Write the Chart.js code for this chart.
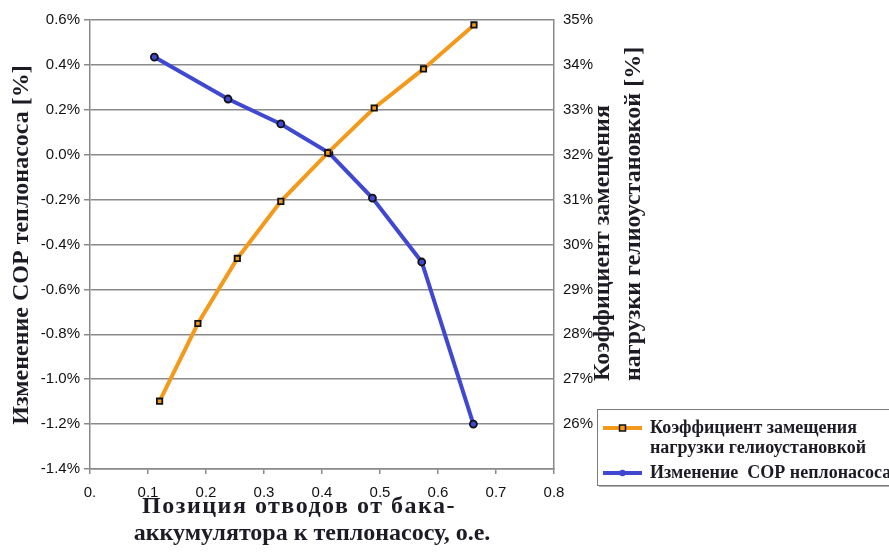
<!DOCTYPE html>
<html>
<head>
  <meta charset="utf-8" />
  <style>
    html, body { margin: 0; padding: 0; background: #fff; }
    #wrap { position: relative; width: 889px; height: 553px; }
  </style>
</head>
<body>
  <script src="https://cdn.jsdelivr.net/npm/chart.js@4.4.1/dist/chart.umd.min.js"></script>
  <div id="wrap"><canvas id="copChart" width="889" height="553"></canvas></div>
  <script>
    // chart data
    let tapPositionsCop = [0.111, 0.238, 0.329, 0.412, 0.487, 0.572, 0.661];
    let copChange = [0.435, 0.248, 0.137, 0.008, -0.193, -0.478, -1.2];

    let tapPositionsSolar = [0.12, 0.186, 0.254, 0.329, 0.41, 0.49, 0.575, 0.662];
    let solarFraction = [26.51, 28.24, 29.69, 30.96, 32.04, 33.04, 33.91, 34.89];

    let seriesNames = [
      ["Коэффициент замещения", "нагрузки гелиоустановкой"],
      ["Изменение  СОР неплонасоса"],
    ];

    let leftAxisTitle = "Изменение СОР теплонасоса [%]";
    let rightAxisTitle = ["Коэффициент замещения", "нагрузки гелиоустановкой [%]"];
    let xAxisTitle = ["Позиция отводов от бака-", "аккумулятора к теплонасосу, о.е."];

    // colors / fonts
    let orangeColor = "#f39a1c";
    let blueColor = "#4048d2";
    let gridColor = "#8a8a8a";
    let titleColor = "#1d1b24";
    let tickFont = { family: "Liberation Sans, Arial, sans-serif", size: 15 };
    let serifBold = "bold 24px 'Liberation Serif', 'Times New Roman', serif";

    function pairUp(xs, ys) {
      return xs.map((x, i) => ({ x: x, y: ys[i] }));
    }

    // titles + legend drawn by hand so they can sit where the original has them
    const extrasPlugin = {
      id: "extras",
      afterDraw(chart) {
        const ctx = chart.ctx;
        ctx.save();
        ctx.fillStyle = titleColor;
        ctx.font = serifBold;
        ctx.textBaseline = "middle";

        // left title
        ctx.save();
        ctx.translate(22, 245);
        ctx.rotate(-Math.PI / 2);
        ctx.textAlign = "center";
        ctx.fillText(leftAxisTitle, 0, 0);
        ctx.restore();

        // right title, two lines, reading bottom to top
        ctx.save();
        ctx.translate(603, 381);
        ctx.rotate(-Math.PI / 2);
        ctx.textAlign = "left";
        ctx.fillText(rightAxisTitle[0], 0, 0);
        ctx.fillText(rightAxisTitle[1], 0, 31);
        ctx.restore();

        // x title (first line is set a bit looser in the original)
        ctx.textAlign = "center";
        ctx.save();
        ctx.letterSpacing = "1.5px";
        ctx.fillText(xAxisTitle[0], 299, 507);
        ctx.restore();
        ctx.fillText(xAxisTitle[1], 312, 534);

        // legend box
        ctx.fillStyle = "#b0b0b0";
        ctx.fillRect(599, 411, 300, 76);
        ctx.fillStyle = "#ffffff";
        ctx.fillRect(597, 409, 300, 76);
        ctx.strokeStyle = "#7a7a7a";
        ctx.lineWidth = 1;
        ctx.strokeRect(597.5, 409.5, 300, 76);

        const rows = [
          { color: orangeColor, style: "rect", y: 428, lines: seriesNames[0] },
          { color: blueColor, style: "circle", y: 473, lines: seriesNames[1] },
        ];
        ctx.font = "bold 18px 'Liberation Serif', 'Times New Roman', serif";
        ctx.textAlign = "left";
        rows.forEach((r) => {
          ctx.strokeStyle = r.color;
          ctx.lineWidth = 4;
          ctx.beginPath();
          ctx.moveTo(603, r.y);
          ctx.lineTo(642, r.y);
          ctx.stroke();
          ctx.fillStyle = r.color;
          ctx.strokeStyle = "#111";
          ctx.lineWidth = 1.5;
          ctx.beginPath();
          if (r.style === "rect") {
            ctx.rect(619.5, r.y - 3, 6, 6);
          } else {
            ctx.arc(622.5, r.y, 3.2, 0, Math.PI * 2);
          }
          ctx.fill();
          if (r.style === "rect") ctx.stroke();
          ctx.fillStyle = titleColor;
          r.lines.forEach((t, i) => ctx.fillText(t, 650, r.y + i * 20));
        });
        ctx.restore();
      },
    };

    let ctx = document.getElementById("copChart").getContext("2d");
    new Chart(ctx, {
      type: "line",
      data: {
        datasets: [
          {
            label: seriesNames[0].join(" "),
            data: pairUp(tapPositionsSolar, solarFraction),
            yAxisID: "y1",
            borderColor: orangeColor,
            backgroundColor: orangeColor,
            borderWidth: 4,
            pointStyle: "rect",
            pointRadius: 3.8,
            pointBorderColor: "#111",
            pointBorderWidth: 1.8,
            pointBackgroundColor: orangeColor,
            tension: 0,
          },
          {
            label: seriesNames[1].join(" "),
            data: pairUp(tapPositionsCop, copChange),
            yAxisID: "y",
            borderColor: blueColor,
            backgroundColor: blueColor,
            borderWidth: 4,
            pointStyle: "circle",
            pointRadius: 3.5,
            pointBorderColor: "#111",
            pointBorderWidth: 1.8,
            pointBackgroundColor: blueColor,
            tension: 0,
          },
        ],
      },
      options: {
        responsive: false,
        animation: false,
        layout: { padding: { top: 20, left: 0, right: 0, bottom: 0 } },
        plugins: {
          legend: { display: false },
          tooltip: { enabled: false },
        },
        scales: {
          x: {
            type: "linear",
            min: 0,
            max: 0.8,
            afterFit: (s) => { s.height = 84; },
            ticks: {
              stepSize: 0.1,
              padding: 10,
              color: "#111",
              font: tickFont,
              callback: (v) => (v === 0 ? "0." : v.toFixed(1)),
            },
            grid: {
              drawOnChartArea: false,
              drawTicks: true,
              tickLength: 5,
              color: gridColor,
              lineWidth: 1.5,
            },
            border: { color: gridColor, width: 1.5 },
          },
          y: {
            position: "left",
            min: -1.4,
            max: 0.6,
            afterFit: (s) => { s.width = 90; },
            ticks: {
              stepSize: 0.2,
              padding: 4,
              color: "#111",
              font: tickFont,
              callback: (v) => v.toFixed(1) + "%",
            },
            grid: {
              color: gridColor,
              lineWidth: 1.5,
              tickLength: 6,
            },
            border: { color: gridColor, width: 1.5 },
          },
          y1: {
            position: "right",
            min: 25,
            max: 35,
            afterFit: (s) => { s.width = 335; },
            ticks: {
              stepSize: 1,
              padding: 9,
              color: "#111",
              font: tickFont,
              callback: (v) => (v === 25 ? "" : v + "%"),
            },
            grid: { drawOnChartArea: false, drawTicks: false },
            border: { color: gridColor, width: 1.5 },
          },
        },
      },
      plugins: [extrasPlugin],
    });
  </script>
</body>
</html>
